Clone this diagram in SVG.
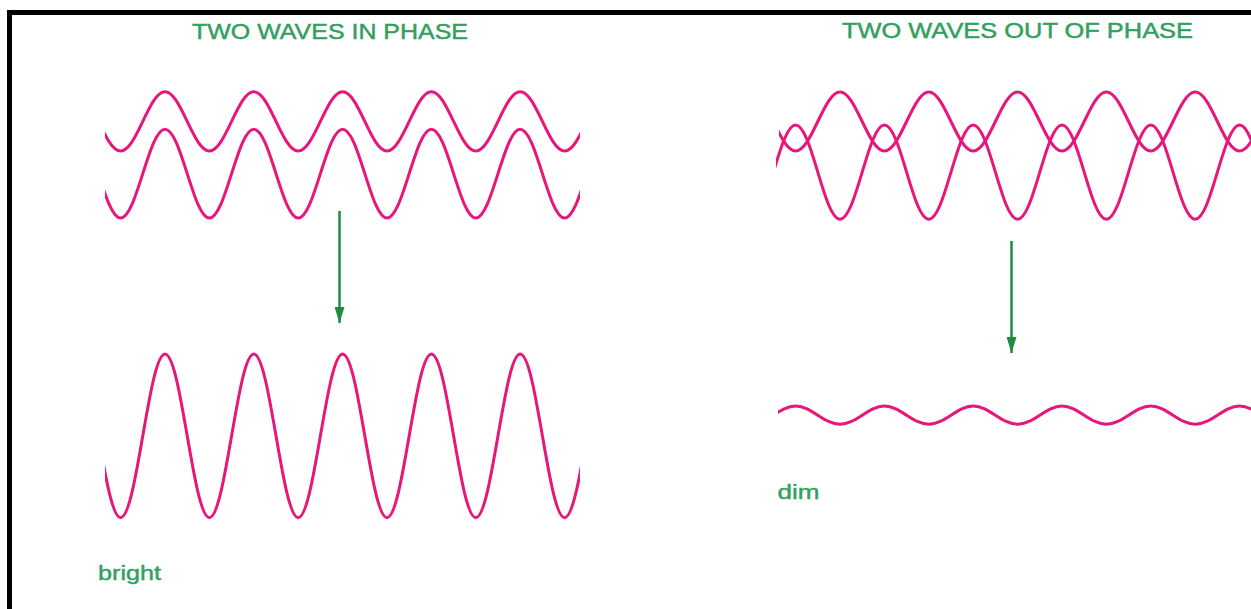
<svg xmlns="http://www.w3.org/2000/svg" width="1251" height="609" viewBox="0 0 1251 609">
<style>
.wave{fill:none;stroke:#e8157a;stroke-width:3;stroke-linejoin:round}
.title{font-family:"Liberation Sans",Arial,sans-serif;font-size:21.5px;fill:#33a060;stroke:#33a060;stroke-width:0.45}
.lbl{font-family:"Liberation Sans",Arial,sans-serif;font-size:21px;fill:#33a060;stroke:#33a060;stroke-width:0.45}
.arrow{stroke:#1e8b40;stroke-width:2.5;fill:none}
</style>
<defs>
<marker id="ah" viewBox="0 0 16 10" refX="16" refY="5" markerWidth="16" markerHeight="10" markerUnits="userSpaceOnUse" orient="auto">
<path d="M0,0 L16,5 L0,10 Z" fill="#1e8b40"/>
</marker>
<clipPath id="clipL"><rect x="105" y="0" width="475" height="609"/></clipPath>
<clipPath id="clipW1"><rect x="779" y="0" width="480" height="609"/></clipPath>
<clipPath id="clipW2"><rect x="776" y="0" width="480" height="609"/></clipPath>
<clipPath id="clipD"><rect x="778" y="0" width="480" height="609"/></clipPath>
</defs>
<rect width="1251" height="609" fill="#fff"/>
<path d="M9.5,609 V12.5 H1251" fill="none" stroke="#000" stroke-width="5"/>

<g id="title-in-phase"><text class="title" x="192" y="38.5" textLength="276" lengthAdjust="spacingAndGlyphs">TWO WAVES IN PHASE</text></g>
<g id="title-out-of-phase"><text class="title" x="842" y="37.5" textLength="351" lengthAdjust="spacingAndGlyphs">TWO WAVES OUT OF PHASE</text></g>

<g id="in-phase-wave-1" clip-path="url(#clipL)">
<path class="wave" d="M98.4,121.35 c7.24,15.19 14.17,29.65 22.2,29.65
s14.96,-14.46 22.2,-29.65 s14.17,-29.65 22.2,-29.65 s14.96,14.46 22.2,29.65 s14.17,29.65 22.2,29.65
s14.96,-14.46 22.2,-29.65 s14.17,-29.65 22.2,-29.65 s14.96,14.46 22.2,29.65 s14.17,29.65 22.2,29.65
s14.96,-14.46 22.2,-29.65 s14.17,-29.65 22.2,-29.65 s14.96,14.46 22.2,29.65 s14.17,29.65 22.2,29.65
s14.96,-14.46 22.2,-29.65 s14.17,-29.65 22.2,-29.65 s14.96,14.46 22.2,29.65 s14.17,29.65 22.2,29.65
s14.96,-14.46 22.2,-29.65 s14.17,-29.65 22.2,-29.65 s14.96,14.46 22.2,29.65 s14.17,29.65 22.2,29.65
s14.96,-14.46 22.2,-29.65"/>
</g>
<g id="in-phase-wave-2" clip-path="url(#clipL)">
<path class="wave" d="M98.4,173.65 c7.24,22.75 14.17,44.4 22.2,44.4
s14.96,-21.65 22.2,-44.4 s14.17,-44.4 22.2,-44.4 s14.96,21.65 22.2,44.4 s14.17,44.4 22.2,44.4
s14.96,-21.65 22.2,-44.4 s14.17,-44.4 22.2,-44.4 s14.96,21.65 22.2,44.4 s14.17,44.4 22.2,44.4
s14.96,-21.65 22.2,-44.4 s14.17,-44.4 22.2,-44.4 s14.96,21.65 22.2,44.4 s14.17,44.4 22.2,44.4
s14.96,-21.65 22.2,-44.4 s14.17,-44.4 22.2,-44.4 s14.96,21.65 22.2,44.4 s14.17,44.4 22.2,44.4
s14.96,-21.65 22.2,-44.4 s14.17,-44.4 22.2,-44.4 s14.96,21.65 22.2,44.4 s14.17,44.4 22.2,44.4
s14.96,-21.65 22.2,-44.4"/>
</g>
<g id="bright-wave" clip-path="url(#clipL)">
<path class="wave" d="M98.4,435.85 c7.24,41.91 14.17,81.8 22.2,81.8
s14.96,-39.89 22.2,-81.8 s14.17,-81.8 22.2,-81.8 s14.96,39.89 22.2,81.8 s14.17,81.8 22.2,81.8
s14.96,-39.89 22.2,-81.8 s14.17,-81.8 22.2,-81.8 s14.96,39.89 22.2,81.8 s14.17,81.8 22.2,81.8
s14.96,-39.89 22.2,-81.8 s14.17,-81.8 22.2,-81.8 s14.96,39.89 22.2,81.8 s14.17,81.8 22.2,81.8
s14.96,-39.89 22.2,-81.8 s14.17,-81.8 22.2,-81.8 s14.96,39.89 22.2,81.8 s14.17,81.8 22.2,81.8
s14.96,-39.89 22.2,-81.8 s14.17,-81.8 22.2,-81.8 s14.96,39.89 22.2,81.8 s14.17,81.8 22.2,81.8
s14.96,-39.89 22.2,-81.8"/>
</g>
<g id="label-bright"><text class="lbl" x="98" y="580" textLength="63" lengthAdjust="spacingAndGlyphs">bright</text></g>

<g id="out-phase-wave-1" clip-path="url(#clipW1)">
<path class="wave" d="M773.4,121.5 c7.24,15.11 14.17,29.5 22.2,29.5
s14.96,-14.39 22.2,-29.5 s14.17,-29.5 22.2,-29.5 s14.96,14.39 22.2,29.5 s14.17,29.5 22.2,29.5
s14.96,-14.39 22.2,-29.5 s14.17,-29.5 22.2,-29.5 s14.96,14.39 22.2,29.5 s14.17,29.5 22.2,29.5
s14.96,-14.39 22.2,-29.5 s14.17,-29.5 22.2,-29.5 s14.96,14.39 22.2,29.5 s14.17,29.5 22.2,29.5
s14.96,-14.39 22.2,-29.5 s14.17,-29.5 22.2,-29.5 s14.96,14.39 22.2,29.5 s14.17,29.5 22.2,29.5
s14.96,-14.39 22.2,-29.5 s14.17,-29.5 22.2,-29.5 s14.96,14.39 22.2,29.5 s14.17,29.5 22.2,29.5
s14.96,-14.39 22.2,-29.5"/>
</g>
<g id="out-phase-wave-2" clip-path="url(#clipW2)">
<path class="wave" d="M773.4,172.15 c7.24,-24.15 14.17,-47.15 22.2,-47.15
s14.96,23 22.2,47.15 s14.17,47.15 22.2,47.15 s14.96,-23 22.2,-47.15 s14.17,-47.15 22.2,-47.15
s14.96,23 22.2,47.15 s14.17,47.15 22.2,47.15 s14.96,-23 22.2,-47.15 s14.17,-47.15 22.2,-47.15
s14.96,23 22.2,47.15 s14.17,47.15 22.2,47.15 s14.96,-23 22.2,-47.15 s14.17,-47.15 22.2,-47.15
s14.96,23 22.2,47.15 s14.17,47.15 22.2,47.15 s14.96,-23 22.2,-47.15 s14.17,-47.15 22.2,-47.15
s14.96,23 22.2,47.15 s14.17,47.15 22.2,47.15 s14.96,-23 22.2,-47.15 s14.17,-47.15 22.2,-47.15
s14.96,23 22.2,47.15"/>
</g>
<g id="dim-wave" clip-path="url(#clipD)">
<path class="wave" d="M773.4,415.15 c7.24,-4.69 14.17,-9.15 22.2,-9.15
s14.96,4.46 22.2,9.15 s14.17,9.15 22.2,9.15 s14.96,-4.46 22.2,-9.15 s14.17,-9.15 22.2,-9.15
s14.96,4.46 22.2,9.15 s14.17,9.15 22.2,9.15 s14.96,-4.46 22.2,-9.15 s14.17,-9.15 22.2,-9.15
s14.96,4.46 22.2,9.15 s14.17,9.15 22.2,9.15 s14.96,-4.46 22.2,-9.15 s14.17,-9.15 22.2,-9.15
s14.96,4.46 22.2,9.15 s14.17,9.15 22.2,9.15 s14.96,-4.46 22.2,-9.15 s14.17,-9.15 22.2,-9.15
s14.96,4.46 22.2,9.15 s14.17,9.15 22.2,9.15 s14.96,-4.46 22.2,-9.15 s14.17,-9.15 22.2,-9.15
s14.96,4.46 22.2,9.15"/>
</g>
<g id="label-dim"><text class="lbl" x="777.5" y="498.5" textLength="42" lengthAdjust="spacingAndGlyphs">dim</text></g>

<g id="connectors">
<line class="arrow" x1="339.5" y1="211" x2="339.5" y2="323" marker-end="url(#ah)"/>
<line class="arrow" x1="1011.5" y1="241" x2="1011.5" y2="353" marker-end="url(#ah)"/>
</g>
</svg>
